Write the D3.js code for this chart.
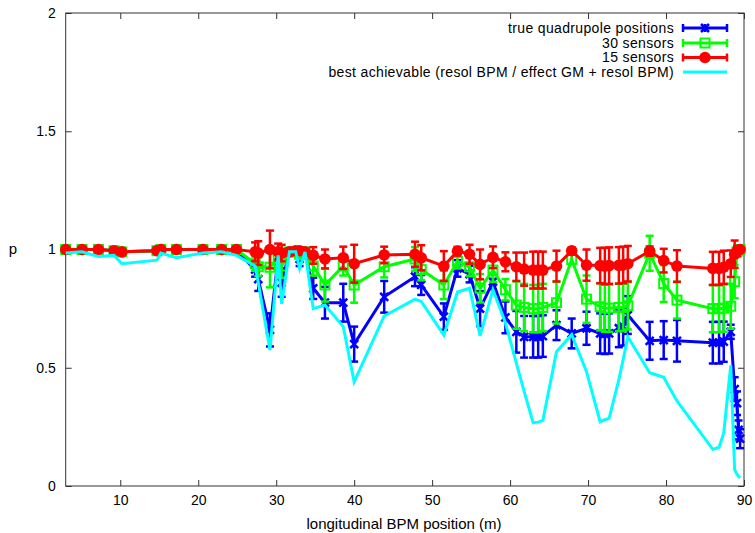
<!DOCTYPE html>
<html><head><meta charset="utf-8">
<script src="https://cdn.jsdelivr.net/npm/d3@7"></script>
<style>body{margin:0;background:#fff}svg{display:block}text{font-family:"Liberation Sans",Arial,sans-serif;fill:#000}</style>
</head><body><svg id="c" width="755" height="533"></svg>
<script>
const xs = [3.0,5.1,7.2,9.2,10.2,14.7,15.2,17.2,20.6,23.0,24.9,27.3,27.7,29.2,30.25,30.7,31.7,32.5,33.0,33.7,34.75,36.25,38.6,40.0,43.85,47.8,48.6,51.5,53.25,54.8,56.15,57.8,59.4,60.8,61.8,62.95,63.6,64.2,65.95,67.9,69.8,71.55,72.15,72.7,73.95,74.5,75.1,77.9,79.7,81.4,86.0,86.8,87.4,88.3,88.8,89.1,89.3,89.5];
const blueVals = [1.0,1.0,1.0,0.995,0.99,0.995,1.0,1.0,1.0,1.0,0.995,0.915,0.875,0.66,0.97,0.86,0.99,0.99,0.96,0.99,0.836,0.775,0.775,0.60,0.80,0.885,0.85,0.716,0.92,0.896,0.75,0.864,0.713,0.652,0.631,0.631,0.631,0.634,0.68,0.645,0.667,0.645,0.643,0.645,0.667,0.674,0.723,0.614,0.617,0.614,0.606,0.606,0.61,0.652,0.41,0.35,0.237,0.20];
const blueErr = [0.008,0.008,0.008,0.008,0.008,0.008,0.008,0.008,0.008,0.008,0.008,0.03,0.05,0.07,0.03,0.06,0.015,0.012,0.03,0.012,0.045,0.067,0.08,0.074,0.067,0.04,0.042,0.056,0.035,0.035,0.074,0.032,0.067,0.088,0.088,0.088,0.088,0.088,0.063,0.063,0.07,0.085,0.085,0.085,0.08,0.08,0.08,0.08,0.08,0.088,0.088,0.088,0.085,0.03,0.05,0.05,0.04,0.04];
const greenVals = [1.0,1.0,1.0,0.995,0.99,0.995,1.0,1.0,1.0,1.0,1.0,0.94,0.927,0.925,0.96,0.93,0.99,0.99,0.98,0.99,0.93,0.85,0.93,0.85,0.927,0.96,0.915,0.85,0.95,0.927,0.836,0.913,0.83,0.765,0.755,0.75,0.75,0.755,0.775,0.958,0.79,0.758,0.752,0.752,0.755,0.755,0.762,0.984,0.856,0.786,0.75,0.75,0.752,0.76,0.864,0.99,0.998,1.0];
const greenErr = [0.008,0.008,0.008,0.008,0.008,0.008,0.008,0.008,0.008,0.008,0.008,0.03,0.04,0.085,0.04,0.05,0.015,0.012,0.02,0.012,0.04,0.07,0.04,0.075,0.045,0.05,0.045,0.06,0.03,0.04,0.06,0.05,0.045,0.1,0.1,0.1,0.1,0.1,0.088,0.02,0.1,0.1,0.1,0.1,0.1,0.1,0.1,0.074,0.078,0.078,0.1,0.1,0.1,0.095,0.07,0.02,0.012,0.01];
const redVals = [1.0,1.0,1.0,0.995,0.99,0.995,1.0,1.0,1.0,1.0,1.0,0.99,0.985,1.0,0.99,0.985,0.99,0.995,0.995,0.99,0.975,0.96,0.965,0.94,0.977,0.98,0.965,0.93,0.993,0.98,0.937,0.967,0.948,0.927,0.917,0.913,0.913,0.913,0.93,0.995,0.934,0.932,0.93,0.932,0.933,0.935,0.94,0.993,0.953,0.93,0.92,0.92,0.925,0.94,0.98,0.993,0.998,1.0];
const redErr = [0.008,0.008,0.008,0.008,0.008,0.008,0.008,0.008,0.008,0.008,0.008,0.04,0.05,0.08,0.035,0.035,0.015,0.012,0.012,0.012,0.035,0.04,0.047,0.08,0.035,0.053,0.053,0.063,0.018,0.04,0.063,0.046,0.04,0.06,0.07,0.078,0.078,0.078,0.065,0.012,0.066,0.075,0.077,0.077,0.077,0.077,0.075,0.02,0.05,0.067,0.07,0.07,0.07,0.056,0.058,0.02,0.012,0.01];
const cyanVals = [0.985,0.99,0.97,0.975,0.94,0.955,0.985,0.965,0.985,0.99,0.975,0.93,0.86,0.575,0.975,0.77,0.99,0.99,0.92,0.99,0.75,0.765,0.674,0.44,0.719,0.79,0.78,0.638,0.82,0.836,0.635,0.83,0.69,0.52,0.40,0.268,0.27,0.277,0.568,0.64,0.483,0.272,0.28,0.286,0.45,0.535,0.631,0.479,0.46,0.36,0.155,0.164,0.223,0.51,0.068,0.05,0.04,0.035];
const seriesNames = ["true quadrupole positions","30 sensors","15 sensors","best achievable (resol BPM / effect GM + resol BPM)"];
const xTicks = [10,20,30,40,50,60,70,80,90];
const yTicks = [0,0.5,1,1.5,2];
const xLabel = "longitudinal BPM position (m)";
const yLabel = "p";

const svg = d3.select("#c");
const L=65.7, R=744, T=13, B=486;
const x = d3.scaleLinear().domain([3,90]).range([L,R]);
const y = d3.scaleLinear().domain([0,2]).range([B,T]);

const axB = svg.append("g").attr("transform",`translate(0,${B})`).call(d3.axisBottom(x).tickValues(xTicks).tickSizeInner(-6).tickSizeOuter(0).tickPadding(9));
const axT = svg.append("g").attr("transform",`translate(0,${T})`).call(d3.axisTop(x).tickValues(xTicks).tickSizeInner(-6).tickSizeOuter(0).tickFormat(""));
const axL = svg.append("g").attr("transform",`translate(${L},0)`).call(d3.axisLeft(y).tickValues(yTicks).tickSizeInner(-6).tickSizeOuter(0).tickPadding(10).tickFormat(d=>String(d)));
const axR = svg.append("g").attr("transform",`translate(${R},0)`).call(d3.axisRight(y).tickValues(yTicks).tickSizeInner(-6).tickSizeOuter(0).tickFormat(""));
[axB,axT,axL,axR].forEach(a=>{a.select(".domain").remove();a.selectAll("line").attr("stroke","#333");a.selectAll("text").style("font-size","14px").attr("fill","#000");});
svg.append("rect").attr("x",L).attr("y",T).attr("width",R-L).attr("height",B-T).attr("fill","none").attr("stroke","#333").attr("stroke-width",1);

svg.append("text").attr("x",404).attr("y",529).attr("text-anchor","middle").style("font-size","15px").text(xLabel);
svg.append("text").attr("x",13).attr("y",254).attr("text-anchor","middle").style("font-size","15px").text(yLabel);

const line = d3.line().x(d=>x(d[0])).y(d=>y(d[1]));
const cap = 4;
function errSeries(vals, errs, color, marker){
  const g = svg.append("g");
  const data = xs.map((xv,i)=>[xv,vals[i],errs[i]]);
  data.forEach(d=>{
    const px=x(d[0]), y1=y(d[1]-d[2]), y2=y(d[1]+d[2]);
    g.append("line").attr("x1",px).attr("x2",px).attr("y1",y1).attr("y2",y2).attr("stroke",color).attr("stroke-width",2.5);
    g.append("line").attr("x1",px-cap).attr("x2",px+cap).attr("y1",y1).attr("y2",y1).attr("stroke",color).attr("stroke-width",2.5);
    g.append("line").attr("x1",px-cap).attr("x2",px+cap).attr("y1",y2).attr("y2",y2).attr("stroke",color).attr("stroke-width",2.5);
  });
  g.append("path").attr("d",line(data)).attr("fill","none").attr("stroke",color).attr("stroke-width",3).attr("stroke-linejoin","miter");
  data.forEach(d=>marker(g,x(d[0]),y(d[1])));
}
function mX(g,px,py){const s=4;g.append("path").attr("d",`M${px-s},${py-s}L${px+s},${py+s}M${px-s},${py+s}L${px+s},${py-s}M${px},${py-s}L${px},${py+s}`).attr("stroke","#0000ff").attr("stroke-width",2.5).attr("fill","none");}
function mSq(g,px,py){const s=4.5;g.append("rect").attr("x",px-s).attr("y",py-s).attr("width",2*s).attr("height",2*s).attr("fill","none").attr("stroke","#00ff00").attr("stroke-width",2);}
function mC(g,px,py){g.append("circle").attr("cx",px).attr("cy",py).attr("r",5.8).attr("fill","#ff0000");}

errSeries(blueVals,blueErr,"#0000ff",mX);
errSeries(greenVals,greenErr,"#00ff00",mSq);
errSeries(redVals,redErr,"#ff0000",mC);
svg.append("path").attr("d",line(xs.map((xv,i)=>[xv,cyanVals[i]]))).attr("fill","none").attr("stroke","#00ffff").attr("stroke-width",3);

const lg = svg.append("g");
const rows=[28,43,57.5,72], colors=["#0000ff","#00ff00","#ff0000","#00ffff"], markers=[mX,mSq,mC,null];
seriesNames.forEach((n,i)=>{
  const yy=rows[i];
  lg.append("text").attr("x",674).attr("y",yy).attr("dy","0.35em").attr("text-anchor","end").style("font-size","14px").style("letter-spacing","0.35px").text(n);
  lg.append("line").attr("x1",683).attr("x2",727).attr("y1",yy).attr("y2",yy).attr("stroke",colors[i]).attr("stroke-width",3);
  if(markers[i]){
    [683,727].forEach(px=>lg.append("line").attr("x1",px).attr("x2",px).attr("y1",yy-cap).attr("y2",yy+cap).attr("stroke",colors[i]).attr("stroke-width",2.5));
    markers[i](lg,705,yy);
  }
});
</script></body></html>
